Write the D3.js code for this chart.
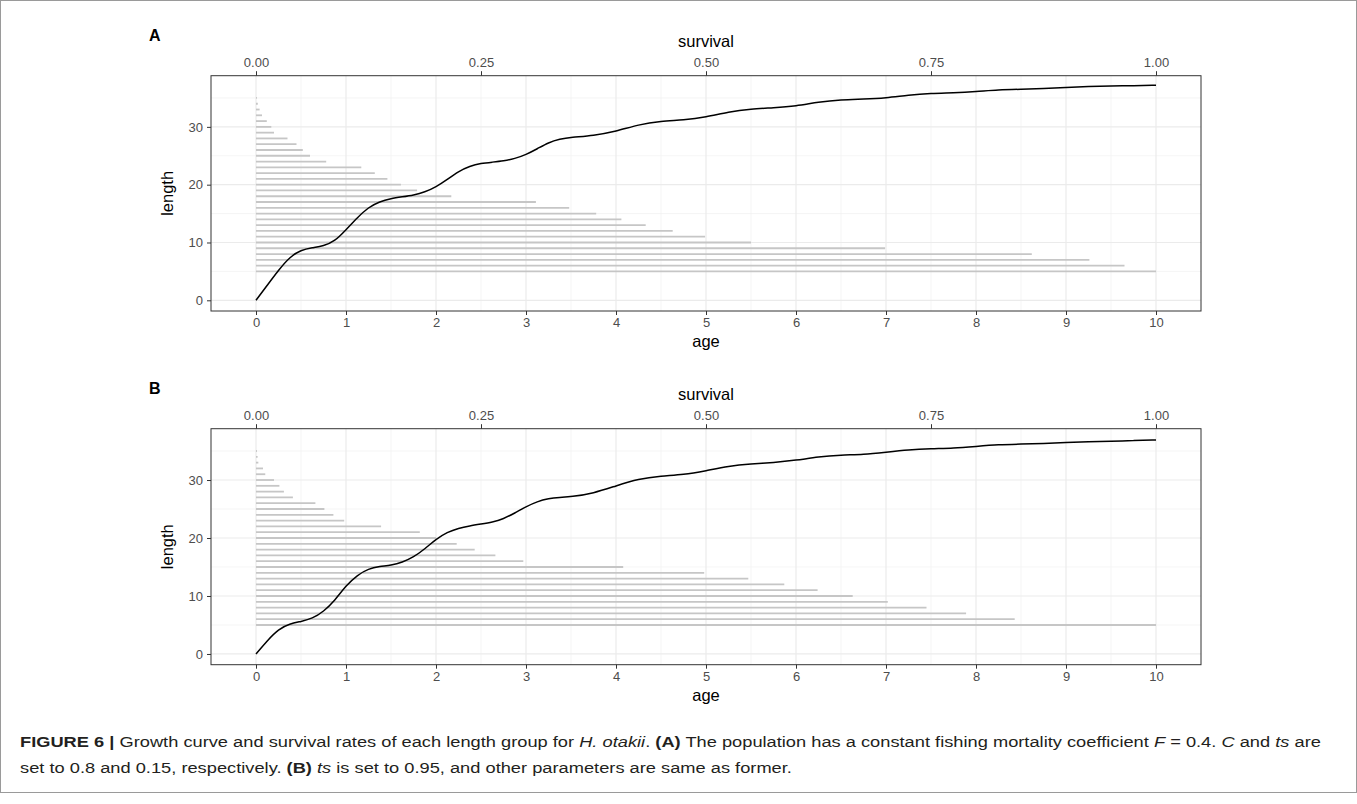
<!DOCTYPE html>
<html>
<head>
<meta charset="utf-8">
<script src="https://cdn.jsdelivr.net/npm/d3@7"></script>
<style>
  body { margin: 0; background: #fff; }
  svg text { font-family: "Liberation Sans", Arial, sans-serif; }
</style>
</head>
<body>
<div id="chart"></div>
<script>
const width = 1357, height = 804;

// length groups (y) shared by both panels
const lengthGroups = [5, 6, 7, 8, 9, 10, 11, 12, 13, 14, 15, 16, 17, 18, 19, 20,
  21, 22, 23, 24, 25, 26, 27, 28, 29, 30, 31, 32, 33, 34, 35];

// survival of each length group, panel A (ts = 0.15)
const survivalA = [1.000, 0.965, 0.926, 0.862, 0.699, 0.550, 0.499, 0.463, 0.433, 0.406,
  0.378, 0.348, 0.311, 0.217, 0.179, 0.161, 0.146, 0.132, 0.117, 0.078,
  0.060, 0.052, 0.045, 0.035, 0.020, 0.017, 0.012, 0.0067, 0.004, 0.002, 0.001];

// survival of each length group, panel B (ts = 0.95)
const survivalB = [1.000, 0.843, 0.789, 0.745, 0.702, 0.663, 0.624, 0.587, 0.547, 0.498,
  0.408, 0.297, 0.266, 0.243, 0.223, 0.200, 0.182, 0.139, 0.098, 0.086,
  0.076, 0.066, 0.041, 0.031, 0.026, 0.020, 0.0103, 0.0078, 0.0026, 0.0018, 0.001];

// growth curve
const curveAge = [0, 0.125, 0.25, 0.375, 0.5, 0.625, 0.75, 0.875, 1, 1.125, 1.25, 1.375, 1.5,
  1.625, 1.75, 1.875, 2, 2.125, 2.25, 2.375, 2.5, 2.625, 2.75, 2.875, 3, 3.125, 3.25, 3.375,
  3.5, 3.75, 4, 4.25, 4.5, 4.75, 5, 5.25, 5.5, 5.75, 6, 6.25, 6.5, 6.75, 7, 7.25, 7.5, 7.75,
  8, 8.25, 8.5, 8.75, 9, 9.25, 9.5, 9.75, 10];
const curveA = [0, 2.6, 5.2, 7.5, 8.7, 9.1, 9.4, 10.2, 12.2, 14.3, 16.1, 17.1, 17.6,
  17.9, 18.2, 18.7, 19.6, 20.9, 22.3, 23.2, 23.7, 23.9, 24.1, 24.5, 25.2, 26.2, 27.3, 27.9,
  28.2, 28.5, 29.2, 30.4, 31.0, 31.2, 31.7, 32.6, 33.1, 33.3, 33.6, 34.3, 34.7, 34.8, 35.0, 35.5, 35.8, 35.9,
  36.1, 36.4, 36.5, 36.6, 36.8, 37.0, 37.1, 37.1, 37.2];
const curveB = [0, 2.3, 4.3, 5.2, 5.6, 6.1, 7.3, 9.2, 11.8, 13.6, 14.7, 15.1, 15.3,
  15.8, 16.7, 18.1, 19.8, 21.0, 21.7, 22.1, 22.4, 22.7, 23.3, 24.3, 25.4, 26.3, 26.8, 27.0,
  27.1, 27.7, 29.0, 30.2, 30.7, 30.9, 31.6, 32.4, 32.8, 33.0, 33.4, 34.0, 34.3, 34.4, 34.8, 35.2, 35.4, 35.5,
  35.8, 36.1, 36.2, 36.3, 36.5, 36.6, 36.7, 36.8, 36.9];

const ageTicks = [0, 1, 2, 3, 4, 5, 6, 7, 8, 9, 10];
const survivalTicks = [0, 0.25, 0.5, 0.75, 1];
const lengthTicks = [0, 10, 20, 30];

const svg = d3.select("#chart").append("svg")
    .attr("width", width)
    .attr("height", height);

// outer frame of the figure
svg.append("rect")
    .attr("x", 0.5).attr("y", 0.5)
    .attr("width", width - 1).attr("height", 792)
    .attr("fill", "none")
    .attr("stroke", "#9a9a9a")
    .attr("stroke-width", 1);

const left = 211, right = 1201;
const x = d3.scaleLinear().domain([-0.5, 10.5]).range([left, right]);
const xs = d3.scaleLinear().domain([-0.05, 1.05]).range([left, right]);

var drawPanel = (top, bottom, survival, curve, tag) => {
    const y = d3.scaleLinear().domain([-1.85, 38.85]).range([bottom, top]);
    const g = svg.append("g");

    // minor then major grid
    g.selectAll(".vminor").data(ageTicks.slice(0, -1)).enter().append("line")
        .attr("x1", d => x(d + 0.5)).attr("x2", d => x(d + 0.5))
        .attr("y1", top).attr("y2", bottom)
        .attr("stroke", "#f0f0f0").attr("stroke-width", 0.7);
    g.selectAll(".hminor").data(lengthTicks).enter().append("line")
        .attr("x1", left).attr("x2", right)
        .attr("y1", d => y(d + 5)).attr("y2", d => y(d + 5))
        .attr("stroke", "#f0f0f0").attr("stroke-width", 0.7);
    g.selectAll(".vmajor").data(ageTicks).enter().append("line")
        .attr("x1", d => x(d)).attr("x2", d => x(d))
        .attr("y1", top).attr("y2", bottom)
        .attr("stroke", "#ebebeb").attr("stroke-width", 1.2);
    g.selectAll(".hmajor").data(lengthTicks).enter().append("line")
        .attr("x1", left).attr("x2", right)
        .attr("y1", d => y(d)).attr("y2", d => y(d))
        .attr("stroke", "#ebebeb").attr("stroke-width", 1.2);

    // survival bars
    g.selectAll(".bar").data(lengthGroups).enter().append("line")
        .attr("x1", xs(0))
        .attr("x2", (d, i) => xs(survival[i]))
        .attr("y1", d => y(d)).attr("y2", d => y(d))
        .attr("stroke", "#c6c6c6").attr("stroke-width", 1.8);

    // growth curve
    const line = d3.line()
        .x((d, i) => x(curveAge[i]))
        .y(d => y(d))
        .curve(d3.curveBasis);
    g.append("path")
        .datum(curve)
        .attr("d", line)
        .attr("fill", "none")
        .attr("stroke", "#000")
        .attr("stroke-width", 1.5);

    // frame
    g.append("rect")
        .attr("x", left).attr("y", top)
        .attr("width", right - left).attr("height", bottom - top)
        .attr("fill", "none").attr("stroke", "#333").attr("stroke-width", 1);

    // axes
    const styleAxis = a => {
        a.select(".domain").remove();
        a.selectAll(".tick line").attr("stroke", "#333").attr("stroke-width", 1);
        a.selectAll(".tick text").attr("fill", "#4d4d4d")
            .style("font-size", "13px")
            .style("font-family", "Liberation Sans, Arial, sans-serif");
    };
    g.append("g").attr("transform", `translate(0,${bottom})`)
        .call(d3.axisBottom(x).tickValues(ageTicks).tickSize(4).tickPadding(3))
        .call(styleAxis);
    g.append("g").attr("transform", `translate(0,${top})`)
        .call(d3.axisTop(xs).tickValues(survivalTicks).tickFormat(d3.format(".2f")).tickSize(4.5).tickPadding(4))
        .call(styleAxis);
    g.append("g").attr("transform", `translate(${left},0)`)
        .call(d3.axisLeft(y).tickValues(lengthTicks).tickSize(4).tickPadding(4))
        .call(styleAxis);

    // titles
    g.append("text").attr("x", (left + right) / 2).attr("y", bottom + 36)
        .attr("text-anchor", "middle").style("font-size", "16.5px").attr("fill", "#000")
        .text("age");
    g.append("text").attr("x", (left + right) / 2).attr("y", top - 29)
        .attr("text-anchor", "middle").style("font-size", "16.5px").attr("fill", "#000")
        .text("survival");
    g.append("text")
        .attr("transform", `translate(173,${(top + bottom) / 2}) rotate(-90)`)
        .attr("text-anchor", "middle").style("font-size", "16.5px").attr("fill", "#000")
        .text("length");
    g.append("text").attr("x", 149).attr("y", top - 35)
        .style("font-size", "16px").style("font-weight", "bold").attr("fill", "#000")
        .text(tag);
};

drawPanel(75.7, 311, survivalA, curveA, "A");
drawPanel(428.7, 664.7, survivalB, curveB, "B");

// caption (the figure's caption font is wider than Arial, so stretch it)
const cap = svg.append("g")
    .attr("transform", "translate(20,0) scale(1.218,1)")
    .style("font-size", "15px").attr("fill", "#231f20");
const line1 = cap.append("text").attr("x", 0).attr("y", 747);
[["FIGURE 6 |", "bold", "normal"], [" Growth curve and survival rates of each length group for ", "normal", "normal"],
 ["H. otakii", "normal", "italic"], [". ", "normal", "normal"], ["(A)", "bold", "normal"],
 [" The population has a constant fishing mortality coefficient ", "normal", "normal"],
 ["F", "normal", "italic"], [" = 0.4. ", "normal", "normal"], ["C", "normal", "italic"],
 [" and ", "normal", "normal"], ["ts", "normal", "italic"], [" are", "normal", "normal"]]
  .forEach(p => line1.append("tspan").style("font-weight", p[1]).style("font-style", p[2]).text(p[0]));
const line2 = cap.append("text").attr("x", 0).attr("y", 773);
[["set to 0.8 and 0.15, respectively. ", "normal", "normal"], ["(B)", "bold", "normal"],
 [" ", "normal", "normal"], ["ts", "normal", "italic"],
 [" is set to 0.95, and other parameters are same as former.", "normal", "normal"]]
  .forEach(p => line2.append("tspan").style("font-weight", p[1]).style("font-style", p[2]).text(p[0]));
</script>
</body>
</html>
